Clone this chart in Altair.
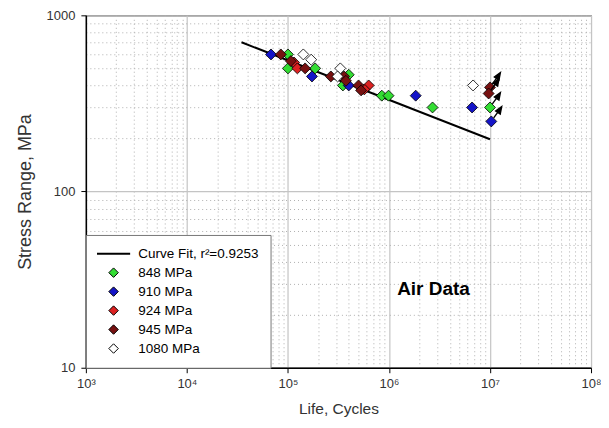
import altair as alt
import pandas as pd

# ---------------- data ----------------
fit_label = "Curve Fit, r²=0.9253"
series_names = ["848 MPa", "910 MPa", "924 MPa", "945 MPa", "1080 MPa"]
series_colors = ["#33dd33", "#1414c8", "#dd2222", "#771111", "#ffffff"]

life_848 = [1.0e5, 1.0e5, 1.86e5, 4.0e5, 3.5e5, 8.5e5, 9.9e5, 2.7e6, 1.0e7]
stress_848 = [600, 500, 500, 460, 400, 350, 350, 300, 300]
runout_848 = [0, 0, 0, 0, 0, 0, 0, 0, 1]

life_910 = [6.8e4, 1.73e5, 4.0e5, 1.84e6, 6.65e6, 1.03e7]
stress_910 = [600, 450, 400, 350, 300, 250]
runout_910 = [0, 0, 0, 0, 0, 1]

life_924 = [1.15e5, 1.24e5, 6.3e5, 5.7e5]
stress_924 = [540, 500, 400, 380]
runout_924 = [0, 0, 0, 0]

life_945 = [8.5e4, 1.07e5, 1.48e5, 2.66e5, 3.6e5, 3.75e5, 5.0e5, 5.3e5, 1.0e7, 0.97e7]
stress_945 = [600, 550, 500, 450, 450, 425, 400, 375, 390, 360]
runout_945 = [0, 0, 0, 0, 0, 0, 0, 0, 1, 1]

life_1080 = [1.42e5, 1.7e5, 3.3e5, 3.1e5, 6.8e6]
stress_1080 = [600, 560, 500, 450, 400]
runout_1080 = [0, 0, 0, 0, 0]

fit_life = [3.47e4, 1.0e7]
fit_stress = [703, 198]

note_text = ["Air Data"]
note_life = [2.76e6]
note_stress = [28.1]

x_ticks = [m * 10 ** e for e in range(3, 8) for m in range(1, 10)] + [1e8]
y_ticks = [m * 10 ** e for e in range(1, 3) for m in range(1, 10)] + [1000]

# ---------------- tables ----------------
rows = []
for name, lv, sv, rv in zip(
    series_names,
    [life_848, life_910, life_924, life_945, life_1080],
    [stress_848, stress_910, stress_924, stress_945, stress_1080],
    [runout_848, runout_910, runout_924, runout_945, runout_1080],
):
    for l, s, r in zip(lv, sv, rv):
        rows.append({"life": l, "stress": s, "runout": r, "series": name})
pts = pd.DataFrame(rows)
fit_df = pd.DataFrame({"life": fit_life, "stress": fit_stress})
note_df = pd.DataFrame({"life": note_life, "stress": note_stress, "text": note_text})

FONT = "Liberation Sans"
major = "abs(log(datum.value)/LN10 - round(log(datum.value)/LN10)) < 0.001"
sup = "['⁰','¹','²','³','⁴','⁵','⁶','⁷','⁸','⁹']"

def grid_props(title_size):
    return dict(
        grid=True,
        gridDash={"condition": {"test": major, "value": []}, "value": [1, 3]},
        gridColor={"condition": {"test": major, "value": "#c4c4c4"}, "value": "#b0b0b0"},
        gridWidth={"condition": {"test": major, "value": 1.2}, "value": 1},
        tickOpacity={"condition": {"test": major, "value": 1}, "value": 0},
        tickSize=5,
        tickColor="black",
        domainColor="black",
        domainWidth=1.5,
        labelFont=FONT,
        labelFontSize=13,
        labelColor="#333333",
        titleFont=FONT,
        titleFontSize=title_size,
        titleFontWeight="normal",
        titleColor="#333333",
        labelOverlap=False,
        labelFlush=False,
    )

x_enc = alt.X(
    "life:Q",
    scale=alt.Scale(type="log", domain=[1e3, 1e8], nice=False),
    axis=alt.Axis(
        values=x_ticks,
        title="Life, Cycles",
        labelExpr=f"{major} ? '10' + {sup}[round(log(datum.value)/LN10)] : ''",
        labelPadding=5,
        titlePadding=11,
        **grid_props(15.5),
    ),
)
y_enc = alt.Y(
    "stress:Q",
    scale=alt.Scale(type="log", domain=[10, 1000], nice=False),
    axis=alt.Axis(
        values=y_ticks,
        title="Stress Range, MPa",
        labelExpr=f"{major} ? format(datum.value, 'd') : ''",
        labelPadding=6,
        titlePadding=12,
        **grid_props(18),
    ),
)

color_scale = alt.Scale(domain=[fit_label] + series_names, range=["black"] + series_colors)
is_fit = f"datum.value == '{fit_label}'"
legend = alt.Legend(
    title=None,
    orient="bottom-left",
    offset=0,
    padding=12,
    fillColor="white",
    strokeColor="#777777",
    labelFont=FONT,
    labelFontSize=13.5,
    labelColor="black",
    labelOffset=18,
    symbolOffset=9,
    rowPadding=4,
    symbolSize=90,
    symbolType=alt.ExprRef(expr=f"{is_fit} ? 'M-3.5,0L3.5,0' : 'diamond'"),
    symbolStrokeWidth=alt.ExprRef(expr=f"{is_fit} ? 2 : 1"),
    symbolStrokeColor="black",
    symbolFillColor=alt.ExprRef(expr="scale('color', datum.value)"),
    symbolOpacity=1,
)

line = alt.Chart(fit_df).mark_line(strokeWidth=2, color="black").encode(x=x_enc, y=y_enc)

points = alt.Chart(pts).mark_point(
    filled=True, shape="diamond", size=120, stroke="black", strokeWidth=0.8, opacity=1
).encode(
    x=x_enc, y=y_enc, color=alt.Color("series:N", scale=color_scale, legend=legend)
)

arrow_path = "M0.3,-0.45L0.85,-1.2M1.3,-1.85L1.12,-0.92L0.55,-1.3Z"
arrows = alt.Chart(pts).transform_filter("datum.runout == 1").mark_point(
    shape=arrow_path, size=256, filled=True, fill="black", stroke="black", strokeWidth=1.4, opacity=1
).encode(x=x_enc, y=y_enc)

note = alt.Chart(note_df).mark_text(
    font=FONT, fontSize=19, fontWeight="bold", color="black"
).encode(x=x_enc, y=y_enc, text="text:N")

chart = alt.layer(line, points, arrows, note).properties(
    width=506,
    height=353,
    autosize=alt.AutoSizeParams(type="none"),
    padding={"left": 78, "top": 7, "right": 10, "bottom": 50},
).configure_view(stroke="black", strokeWidth=1)

chart.save("out.html", embed_options={"renderer": "svg", "actions": False})
